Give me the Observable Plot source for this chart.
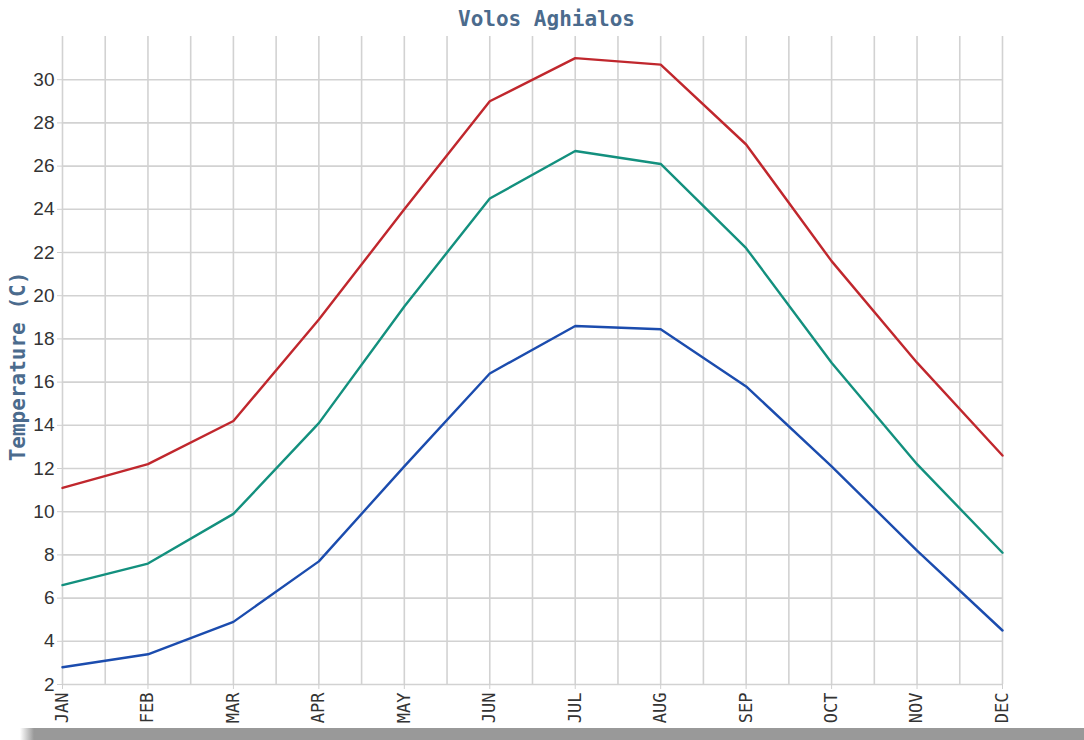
<!DOCTYPE html>
<html>
<head>
<meta charset="utf-8">
<script src="https://cdn.jsdelivr.net/npm/d3@7"></script>
<script src="https://cdn.jsdelivr.net/npm/@observablehq/plot@0.6"></script>
<style>
  html, body { margin: 0; padding: 0; background: #fff; overflow: hidden; }
  #wrap { position: relative; width: 1084px; height: 740px; }
  #shadow { position: absolute; left: 20px; top: 728px; width: 1064px; height: 12px;
            background: linear-gradient(to right, rgba(153,153,153,0) 0px, #999 14px, #999 100%); }
</style>
</head>
<body>
<div id="wrap"><div id="shadow"></div></div>
<script>
const months = ["JAN","FEB","MAR","APR","MAY","JUN","JUL","AUG","SEP","OCT","NOV","DEC"];
const tmax  = [11.1, 12.2, 14.2, 18.9, 24.0, 29.0, 31.0, 30.7, 27.0, 21.6, 16.9, 12.6];
const tmean = [6.6, 7.6, 9.9, 14.1, 19.5, 24.5, 26.7, 26.1, 22.2, 16.9, 12.2, 8.1];
const tmin  = [2.8, 3.4, 4.9, 7.7, 12.1, 16.4, 18.6, 18.45, 15.8, 12.1, 8.2, 4.5];
const yTicks = [2,4,6,8,10,12,14,16,18,20,22,24,26,28,30];
const title = "Volos Aghialos";
const yLabel = "Temperature (C)";

const seriesDefs = [
  {name: "max", values: tmax, color: "#c0272d"},
  {name: "mean", values: tmean, color: "#13907e"},
  {name: "min", values: tmin, color: "#1b4cae"}
];
const rows = seriesDefs.flatMap(s => s.values.map((v, i) => ({series: s.name, month: i, value: v})));
const xGrid = d3.range(0, months.length - 0.99, 0.5);

const chart = Plot.plot({
  width: 1084,
  height: 740,
  marginLeft: 62,
  marginRight: 82,
  marginTop: 36,
  marginBottom: 56,
  style: {fontFamily: "DejaVu Sans Mono", fontSize: "16px", background: "transparent"},
  x: {type: "linear", domain: [0, months.length - 1]},
  y: {domain: [2, 32]},
  color: {domain: seriesDefs.map(s => s.name), range: seriesDefs.map(s => s.color)},
  marks: [
    Plot.ruleX(xGrid, {x: d => d, y1: 2, y2: 32, stroke: "#d2d2d2", strokeWidth: 1.6}),
    Plot.ruleY(yTicks, {y: d => d, x1: 0, x2: months.length - 1, stroke: "#d2d2d2", strokeWidth: 1.6}),
    Plot.axisX(d3.range(months.length), {tickFormat: i => months[i], tickRotate: -90, tickSize: 5, tickPadding: 3,
      stroke: "#cfcfcf", fill: "#333", label: null, fontSize: 17}),
    Plot.axisY(yTicks, {tickSize: 5, tickPadding: 3, stroke: "#cfcfcf", fill: "#333", label: null,
      fontFamily: "Liberation Sans", fontSize: 19}),
    Plot.line(rows, {x: "month", y: "value", z: "series", stroke: "series", strokeWidth: 2.4, curve: "linear"}),
    Plot.text([title], {frameAnchor: "top", dx: 14, dy: -25, text: d => d, fill: "#4b6b8d",
      fontWeight: "bold", fontSize: 21, fontFamily: "DejaVu Sans Mono"}),
    Plot.text([yLabel], {frameAnchor: "left", textAnchor: "middle", dx: -44, dy: 6, rotate: -90, text: d => d, fill: "#4b6b8d",
      fontWeight: "bold", fontSize: 21, fontFamily: "DejaVu Sans Mono"})
  ]
});
document.getElementById("wrap").insertBefore(chart, document.getElementById("shadow"));
</script>
</body>
</html>
